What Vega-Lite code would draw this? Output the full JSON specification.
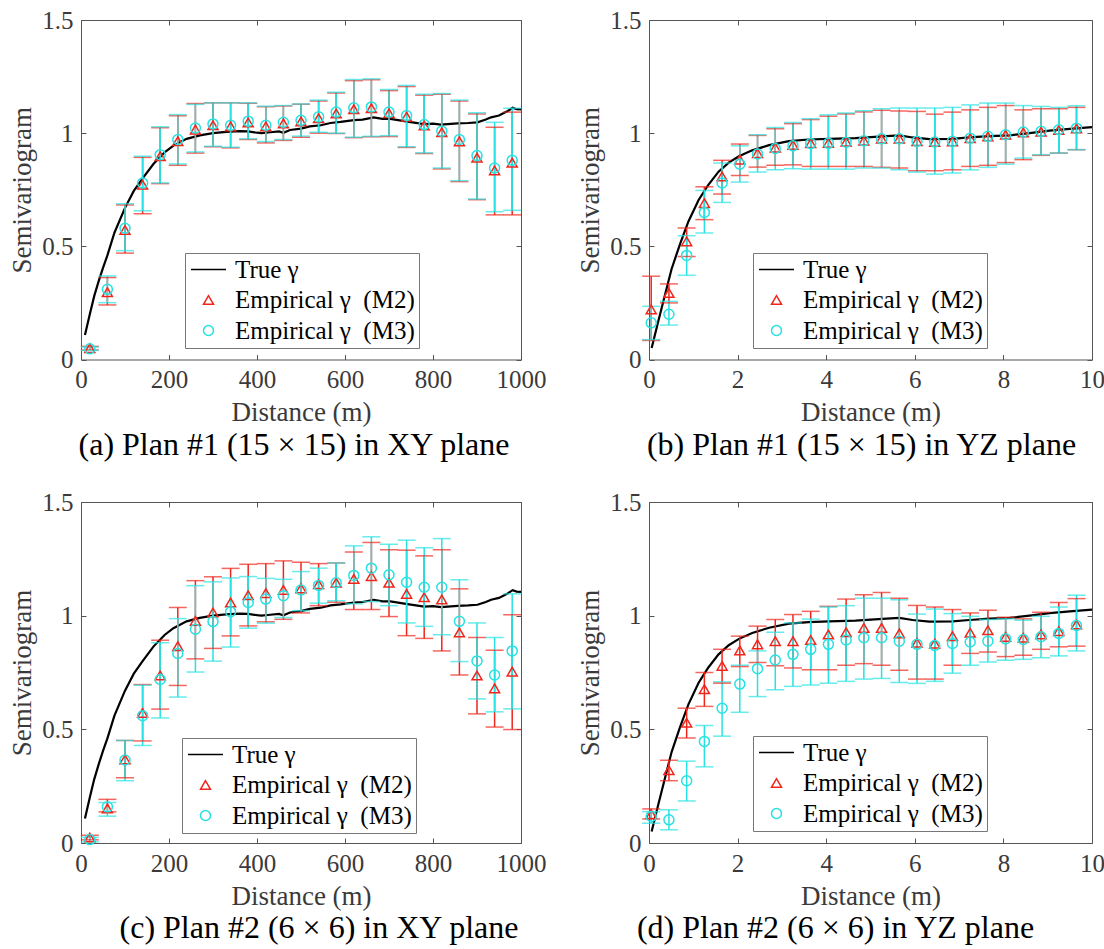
{
  "$schema": "https://vega.github.io/schema/vega-lite/v6.json",
  "background": "white",
  "padding": {"left": 8, "top": 7, "right": 5, "bottom": 5},
  "datasets": {
    "truth": [
      {"g":"XY","x":9,"y":0.108},{"g":"XY","x":20,"y":0.2},{"g":"XY","x":30,"y":0.28},{"g":"XY","x":40,"y":0.345},
      {"g":"XY","x":50,"y":0.405},{"g":"XY","x":60,"y":0.46},{"g":"XY","x":76,"y":0.56},{"g":"XY","x":100,"y":0.67},
      {"g":"XY","x":120,"y":0.745},{"g":"XY","x":140,"y":0.8},{"g":"XY","x":165,"y":0.865},{"g":"XY","x":190,"y":0.915},
      {"g":"XY","x":210,"y":0.945},{"g":"XY","x":240,"y":0.975},{"g":"XY","x":270,"y":0.99},{"g":"XY","x":300,"y":1.0},
      {"g":"XY","x":330,"y":1.006},{"g":"XY","x":360,"y":1.009},{"g":"XY","x":380,"y":1.008},{"g":"XY","x":400,"y":1.002},
      {"g":"XY","x":410,"y":1.0},{"g":"XY","x":430,"y":1.004},{"g":"XY","x":450,"y":1.008},{"g":"XY","x":460,"y":1.002},
      {"g":"XY","x":475,"y":1.014},{"g":"XY","x":500,"y":1.02},{"g":"XY","x":520,"y":1.03},{"g":"XY","x":545,"y":1.035},
      {"g":"XY","x":567,"y":1.045},{"g":"XY","x":590,"y":1.05},{"g":"XY","x":620,"y":1.058},{"g":"XY","x":640,"y":1.06},
      {"g":"XY","x":665,"y":1.07},{"g":"XY","x":685,"y":1.063},{"g":"XY","x":703,"y":1.063},{"g":"XY","x":742,"y":1.051},
      {"g":"XY","x":780,"y":1.04},{"g":"XY","x":800,"y":1.042},{"g":"XY","x":818,"y":1.038},{"g":"XY","x":856,"y":1.043},
      {"g":"XY","x":880,"y":1.045},{"g":"XY","x":901,"y":1.048},{"g":"XY","x":920,"y":1.06},{"g":"XY","x":932,"y":1.07},
      {"g":"XY","x":950,"y":1.078},{"g":"XY","x":962,"y":1.09},{"g":"XY","x":970,"y":1.098},{"g":"XY","x":981,"y":1.112},
      {"g":"XY","x":990,"y":1.106},{"g":"XY","x":1000,"y":1.105},
      {"g":"YZ","x":0.06,"y":0.051},{"g":"YZ","x":0.21,"y":0.169},{"g":"YZ","x":0.36,"y":0.285},{"g":"YZ","x":0.51,"y":0.4},
      {"g":"YZ","x":0.7,"y":0.51},{"g":"YZ","x":0.89,"y":0.61},{"g":"YZ","x":1.12,"y":0.705},{"g":"YZ","x":1.34,"y":0.772},
      {"g":"YZ","x":1.57,"y":0.83},{"g":"YZ","x":1.8,"y":0.87},{"g":"YZ","x":2.03,"y":0.898},{"g":"YZ","x":2.33,"y":0.924},
      {"g":"YZ","x":2.71,"y":0.947},{"g":"YZ","x":3.16,"y":0.965},{"g":"YZ","x":3.6,"y":0.972},{"g":"YZ","x":4.06,"y":0.975},
      {"g":"YZ","x":4.66,"y":0.978},{"g":"YZ","x":5.27,"y":0.986},{"g":"YZ","x":5.65,"y":0.99},{"g":"YZ","x":5.95,"y":0.981},
      {"g":"YZ","x":6.33,"y":0.974},{"g":"YZ","x":6.85,"y":0.975},{"g":"YZ","x":7.23,"y":0.981},{"g":"YZ","x":7.68,"y":0.987},
      {"g":"YZ","x":8.14,"y":0.99},{"g":"YZ","x":8.59,"y":1.0},{"g":"YZ","x":9.04,"y":1.011},{"g":"YZ","x":9.5,"y":1.019},
      {"g":"YZ","x":10,"y":1.027}
    ],
    "emp": [
      {"p":"a","s":"M2","x":20,"y":0.050,"lo":0.042,"hi":0.058},
      {"p":"a","s":"M2","x":60,"y":0.297,"lo":0.241,"hi":0.362},
      {"p":"a","s":"M2","x":100,"y":0.572,"lo":0.470,"hi":0.683},
      {"p":"a","s":"M2","x":140,"y":0.772,"lo":0.644,"hi":0.893},
      {"p":"a","s":"M2","x":180,"y":0.898,"lo":0.777,"hi":1.024},
      {"p":"a","s":"M2","x":220,"y":0.965,"lo":0.858,"hi":1.077},
      {"p":"a","s":"M2","x":260,"y":1.016,"lo":0.912,"hi":1.131},
      {"p":"a","s":"M2","x":300,"y":1.035,"lo":0.940,"hi":1.134},
      {"p":"a","s":"M2","x":340,"y":1.030,"lo":0.935,"hi":1.134},
      {"p":"a","s":"M2","x":380,"y":1.047,"lo":0.972,"hi":1.132},
      {"p":"a","s":"M2","x":420,"y":1.030,"lo":0.957,"hi":1.117},
      {"p":"a","s":"M2","x":460,"y":1.043,"lo":0.968,"hi":1.120},
      {"p":"a","s":"M2","x":500,"y":1.052,"lo":0.982,"hi":1.128},
      {"p":"a","s":"M2","x":540,"y":1.066,"lo":1.000,"hi":1.142},
      {"p":"a","s":"M2","x":580,"y":1.087,"lo":0.998,"hi":1.178},
      {"p":"a","s":"M2","x":620,"y":1.106,"lo":0.980,"hi":1.232},
      {"p":"a","s":"M2","x":660,"y":1.110,"lo":0.984,"hi":1.236},
      {"p":"a","s":"M2","x":700,"y":1.088,"lo":0.985,"hi":1.188},
      {"p":"a","s":"M2","x":740,"y":1.073,"lo":0.937,"hi":1.206},
      {"p":"a","s":"M2","x":780,"y":1.034,"lo":0.910,"hi":1.168},
      {"p":"a","s":"M2","x":820,"y":1.004,"lo":0.842,"hi":1.172},
      {"p":"a","s":"M2","x":860,"y":0.964,"lo":0.786,"hi":1.142},
      {"p":"a","s":"M2","x":900,"y":0.892,"lo":0.706,"hi":1.085},
      {"p":"a","s":"M2","x":940,"y":0.835,"lo":0.639,"hi":1.026},
      {"p":"a","s":"M2","x":980,"y":0.870,"lo":0.639,"hi":1.093},
      {"p":"a","s":"M3","x":20,"y":0.047,"lo":0.040,"hi":0.055},
      {"p":"a","s":"M3","x":60,"y":0.310,"lo":0.251,"hi":0.369},
      {"p":"a","s":"M3","x":100,"y":0.580,"lo":0.481,"hi":0.688},
      {"p":"a","s":"M3","x":140,"y":0.780,"lo":0.657,"hi":0.898},
      {"p":"a","s":"M3","x":180,"y":0.905,"lo":0.780,"hi":1.028},
      {"p":"a","s":"M3","x":220,"y":0.972,"lo":0.864,"hi":1.082},
      {"p":"a","s":"M3","x":260,"y":1.023,"lo":0.917,"hi":1.127},
      {"p":"a","s":"M3","x":300,"y":1.041,"lo":0.942,"hi":1.134},
      {"p":"a","s":"M3","x":340,"y":1.035,"lo":0.938,"hi":1.134},
      {"p":"a","s":"M3","x":380,"y":1.053,"lo":0.975,"hi":1.134},
      {"p":"a","s":"M3","x":420,"y":1.035,"lo":0.963,"hi":1.119},
      {"p":"a","s":"M3","x":460,"y":1.048,"lo":0.972,"hi":1.122},
      {"p":"a","s":"M3","x":500,"y":1.057,"lo":0.987,"hi":1.129},
      {"p":"a","s":"M3","x":540,"y":1.072,"lo":1.004,"hi":1.146},
      {"p":"a","s":"M3","x":580,"y":1.093,"lo":1.000,"hi":1.181},
      {"p":"a","s":"M3","x":620,"y":1.112,"lo":0.982,"hi":1.237},
      {"p":"a","s":"M3","x":660,"y":1.116,"lo":0.986,"hi":1.240},
      {"p":"a","s":"M3","x":700,"y":1.093,"lo":0.989,"hi":1.193},
      {"p":"a","s":"M3","x":740,"y":1.078,"lo":0.940,"hi":1.211},
      {"p":"a","s":"M3","x":780,"y":1.038,"lo":0.913,"hi":1.172},
      {"p":"a","s":"M3","x":820,"y":1.009,"lo":0.846,"hi":1.175},
      {"p":"a","s":"M3","x":860,"y":0.972,"lo":0.790,"hi":1.146},
      {"p":"a","s":"M3","x":900,"y":0.901,"lo":0.709,"hi":1.090},
      {"p":"a","s":"M3","x":940,"y":0.846,"lo":0.653,"hi":1.048},
      {"p":"a","s":"M3","x":980,"y":0.880,"lo":0.659,"hi":1.110},

      {"p":"b","s":"M2","x":0.05,"y":0.221,"lo":0.084,"hi":0.368},
      {"p":"b","s":"M2","x":0.45,"y":0.294,"lo":0.250,"hi":0.334},
      {"p":"b","s":"M2","x":0.85,"y":0.522,"lo":0.455,"hi":0.581},
      {"p":"b","s":"M2","x":1.25,"y":0.691,"lo":0.618,"hi":0.763},
      {"p":"b","s":"M2","x":1.65,"y":0.809,"lo":0.731,"hi":0.880},
      {"p":"b","s":"M2","x":2.05,"y":0.883,"lo":0.813,"hi":0.952},
      {"p":"b","s":"M2","x":2.45,"y":0.912,"lo":0.850,"hi":0.990},
      {"p":"b","s":"M2","x":2.85,"y":0.936,"lo":0.858,"hi":1.020},
      {"p":"b","s":"M2","x":3.25,"y":0.948,"lo":0.860,"hi":1.042},
      {"p":"b","s":"M2","x":3.65,"y":0.956,"lo":0.853,"hi":1.060},
      {"p":"b","s":"M2","x":4.05,"y":0.957,"lo":0.853,"hi":1.075},
      {"p":"b","s":"M2","x":4.45,"y":0.962,"lo":0.853,"hi":1.085},
      {"p":"b","s":"M2","x":4.85,"y":0.967,"lo":0.853,"hi":1.094},
      {"p":"b","s":"M2","x":5.25,"y":0.976,"lo":0.849,"hi":1.101},
      {"p":"b","s":"M2","x":5.65,"y":0.976,"lo":0.846,"hi":1.098},
      {"p":"b","s":"M2","x":6.05,"y":0.965,"lo":0.834,"hi":1.096},
      {"p":"b","s":"M2","x":6.45,"y":0.961,"lo":0.834,"hi":1.084},
      {"p":"b","s":"M2","x":6.85,"y":0.964,"lo":0.838,"hi":1.093},
      {"p":"b","s":"M2","x":7.25,"y":0.978,"lo":0.853,"hi":1.103},
      {"p":"b","s":"M2","x":7.65,"y":0.986,"lo":0.858,"hi":1.114},
      {"p":"b","s":"M2","x":8.05,"y":0.993,"lo":0.870,"hi":1.122},
      {"p":"b","s":"M2","x":8.45,"y":1.003,"lo":0.883,"hi":1.103},
      {"p":"b","s":"M2","x":8.85,"y":1.007,"lo":0.902,"hi":1.108},
      {"p":"b","s":"M2","x":9.25,"y":1.014,"lo":0.912,"hi":1.108},
      {"p":"b","s":"M2","x":9.65,"y":1.021,"lo":0.927,"hi":1.114},
      {"p":"b","s":"M3","x":0.05,"y":0.162,"lo":0.088,"hi":0.235},
      {"p":"b","s":"M3","x":0.45,"y":0.200,"lo":0.152,"hi":0.257},
      {"p":"b","s":"M3","x":0.85,"y":0.460,"lo":0.372,"hi":0.547},
      {"p":"b","s":"M3","x":1.25,"y":0.650,"lo":0.559,"hi":0.747},
      {"p":"b","s":"M3","x":1.65,"y":0.780,"lo":0.694,"hi":0.868},
      {"p":"b","s":"M3","x":2.05,"y":0.863,"lo":0.784,"hi":0.944},
      {"p":"b","s":"M3","x":2.45,"y":0.908,"lo":0.828,"hi":0.993},
      {"p":"b","s":"M3","x":2.85,"y":0.932,"lo":0.838,"hi":1.025},
      {"p":"b","s":"M3","x":3.25,"y":0.944,"lo":0.843,"hi":1.047},
      {"p":"b","s":"M3","x":3.65,"y":0.954,"lo":0.841,"hi":1.064},
      {"p":"b","s":"M3","x":4.05,"y":0.955,"lo":0.841,"hi":1.081},
      {"p":"b","s":"M3","x":4.45,"y":0.960,"lo":0.841,"hi":1.089},
      {"p":"b","s":"M3","x":4.85,"y":0.966,"lo":0.846,"hi":1.099},
      {"p":"b","s":"M3","x":5.25,"y":0.975,"lo":0.846,"hi":1.108},
      {"p":"b","s":"M3","x":5.65,"y":0.975,"lo":0.838,"hi":1.111},
      {"p":"b","s":"M3","x":6.05,"y":0.964,"lo":0.828,"hi":1.111},
      {"p":"b","s":"M3","x":6.45,"y":0.961,"lo":0.819,"hi":1.111},
      {"p":"b","s":"M3","x":6.85,"y":0.964,"lo":0.824,"hi":1.114},
      {"p":"b","s":"M3","x":7.25,"y":0.978,"lo":0.838,"hi":1.125},
      {"p":"b","s":"M3","x":7.65,"y":0.986,"lo":0.849,"hi":1.133},
      {"p":"b","s":"M3","x":8.05,"y":0.993,"lo":0.863,"hi":1.133},
      {"p":"b","s":"M3","x":8.45,"y":1.005,"lo":0.890,"hi":1.122},
      {"p":"b","s":"M3","x":8.85,"y":1.008,"lo":0.905,"hi":1.118},
      {"p":"b","s":"M3","x":9.25,"y":1.015,"lo":0.912,"hi":1.114},
      {"p":"b","s":"M3","x":9.65,"y":1.022,"lo":0.927,"hi":1.121},

      {"p":"c","s":"M2","x":20,"y":0.024,"lo":0.014,"hi":0.034},
      {"p":"c","s":"M2","x":60,"y":0.152,"lo":0.137,"hi":0.192},
      {"p":"c","s":"M2","x":100,"y":0.368,"lo":0.287,"hi":0.451},
      {"p":"c","s":"M2","x":140,"y":0.572,"lo":0.449,"hi":0.697},
      {"p":"c","s":"M2","x":180,"y":0.737,"lo":0.589,"hi":0.892},
      {"p":"c","s":"M2","x":220,"y":0.866,"lo":0.693,"hi":1.036},
      {"p":"c","s":"M2","x":260,"y":0.977,"lo":0.810,"hi":1.154},
      {"p":"c","s":"M2","x":300,"y":1.014,"lo":0.856,"hi":1.171},
      {"p":"c","s":"M2","x":340,"y":1.058,"lo":0.911,"hi":1.208},
      {"p":"c","s":"M2","x":380,"y":1.090,"lo":0.955,"hi":1.226},
      {"p":"c","s":"M2","x":420,"y":1.099,"lo":0.973,"hi":1.229},
      {"p":"c","s":"M2","x":460,"y":1.113,"lo":0.984,"hi":1.241},
      {"p":"c","s":"M2","x":500,"y":1.120,"lo":1.012,"hi":1.235},
      {"p":"c","s":"M2","x":540,"y":1.138,"lo":1.044,"hi":1.229},
      {"p":"c","s":"M2","x":580,"y":1.145,"lo":1.059,"hi":1.232},
      {"p":"c","s":"M2","x":620,"y":1.162,"lo":1.027,"hi":1.280},
      {"p":"c","s":"M2","x":660,"y":1.174,"lo":1.027,"hi":1.322},
      {"p":"c","s":"M2","x":700,"y":1.145,"lo":0.996,"hi":1.290},
      {"p":"c","s":"M2","x":740,"y":1.096,"lo":0.912,"hi":1.288},
      {"p":"c","s":"M2","x":780,"y":1.081,"lo":0.900,"hi":1.263},
      {"p":"c","s":"M2","x":820,"y":1.071,"lo":0.845,"hi":1.290},
      {"p":"c","s":"M2","x":860,"y":0.926,"lo":0.739,"hi":1.118},
      {"p":"c","s":"M2","x":900,"y":0.737,"lo":0.568,"hi":0.904},
      {"p":"c","s":"M2","x":940,"y":0.680,"lo":0.510,"hi":0.848},
      {"p":"c","s":"M2","x":980,"y":0.754,"lo":0.499,"hi":1.004},
      {"p":"c","s":"M3","x":20,"y":0.015,"lo":0.005,"hi":0.025},
      {"p":"c","s":"M3","x":60,"y":0.159,"lo":0.118,"hi":0.178},
      {"p":"c","s":"M3","x":100,"y":0.365,"lo":0.274,"hi":0.451},
      {"p":"c","s":"M3","x":140,"y":0.560,"lo":0.429,"hi":0.694},
      {"p":"c","s":"M3","x":180,"y":0.719,"lo":0.550,"hi":0.881},
      {"p":"c","s":"M3","x":220,"y":0.834,"lo":0.642,"hi":0.987},
      {"p":"c","s":"M3","x":260,"y":0.940,"lo":0.752,"hi":1.132},
      {"p":"c","s":"M3","x":300,"y":0.974,"lo":0.800,"hi":1.149},
      {"p":"c","s":"M3","x":340,"y":1.017,"lo":0.862,"hi":1.166},
      {"p":"c","s":"M3","x":380,"y":1.058,"lo":0.945,"hi":1.172},
      {"p":"c","s":"M3","x":420,"y":1.073,"lo":0.967,"hi":1.164},
      {"p":"c","s":"M3","x":460,"y":1.088,"lo":0.992,"hi":1.160},
      {"p":"c","s":"M3","x":500,"y":1.113,"lo":1.022,"hi":1.194},
      {"p":"c","s":"M3","x":540,"y":1.133,"lo":1.055,"hi":1.209},
      {"p":"c","s":"M3","x":580,"y":1.145,"lo":1.066,"hi":1.232},
      {"p":"c","s":"M3","x":620,"y":1.177,"lo":1.052,"hi":1.307},
      {"p":"c","s":"M3","x":660,"y":1.209,"lo":1.062,"hi":1.347},
      {"p":"c","s":"M3","x":700,"y":1.180,"lo":1.044,"hi":1.314},
      {"p":"c","s":"M3","x":740,"y":1.147,"lo":0.968,"hi":1.332},
      {"p":"c","s":"M3","x":780,"y":1.125,"lo":0.953,"hi":1.299},
      {"p":"c","s":"M3","x":820,"y":1.125,"lo":0.916,"hi":1.339},
      {"p":"c","s":"M3","x":860,"y":0.975,"lo":0.798,"hi":1.158},
      {"p":"c","s":"M3","x":900,"y":0.801,"lo":0.634,"hi":0.968},
      {"p":"c","s":"M3","x":940,"y":0.739,"lo":0.577,"hi":0.904},
      {"p":"c","s":"M3","x":980,"y":0.845,"lo":0.590,"hi":1.096},

      {"p":"d","s":"M2","x":0.05,"y":0.127,"lo":0.106,"hi":0.150},
      {"p":"d","s":"M2","x":0.45,"y":0.320,"lo":0.274,"hi":0.364},
      {"p":"d","s":"M2","x":0.85,"y":0.529,"lo":0.462,"hi":0.593},
      {"p":"d","s":"M2","x":1.25,"y":0.677,"lo":0.601,"hi":0.750},
      {"p":"d","s":"M2","x":1.65,"y":0.779,"lo":0.703,"hi":0.852},
      {"p":"d","s":"M2","x":2.05,"y":0.847,"lo":0.776,"hi":0.910},
      {"p":"d","s":"M2","x":2.45,"y":0.874,"lo":0.794,"hi":0.954},
      {"p":"d","s":"M2","x":2.85,"y":0.888,"lo":0.780,"hi":0.983},
      {"p":"d","s":"M2","x":3.25,"y":0.888,"lo":0.770,"hi":1.005},
      {"p":"d","s":"M2","x":3.65,"y":0.893,"lo":0.762,"hi":1.019},
      {"p":"d","s":"M2","x":4.05,"y":0.917,"lo":0.762,"hi":1.041},
      {"p":"d","s":"M2","x":4.45,"y":0.927,"lo":0.782,"hi":1.073},
      {"p":"d","s":"M2","x":4.85,"y":0.946,"lo":0.789,"hi":1.092},
      {"p":"d","s":"M2","x":5.25,"y":0.946,"lo":0.782,"hi":1.102},
      {"p":"d","s":"M2","x":5.65,"y":0.922,"lo":0.760,"hi":1.077},
      {"p":"d","s":"M2","x":6.05,"y":0.881,"lo":0.721,"hi":1.045},
      {"p":"d","s":"M2","x":6.45,"y":0.877,"lo":0.721,"hi":1.038},
      {"p":"d","s":"M2","x":6.85,"y":0.910,"lo":0.782,"hi":1.027},
      {"p":"d","s":"M2","x":7.25,"y":0.925,"lo":0.834,"hi":1.012},
      {"p":"d","s":"M2","x":7.65,"y":0.936,"lo":0.840,"hi":1.024},
      {"p":"d","s":"M2","x":8.05,"y":0.907,"lo":0.820,"hi":0.993},
      {"p":"d","s":"M2","x":8.45,"y":0.903,"lo":0.826,"hi":0.986},
      {"p":"d","s":"M2","x":8.85,"y":0.917,"lo":0.852,"hi":1.015},
      {"p":"d","s":"M2","x":9.25,"y":0.932,"lo":0.863,"hi":1.058},
      {"p":"d","s":"M2","x":9.65,"y":0.961,"lo":0.866,"hi":1.075},
      {"p":"d","s":"M3","x":0.05,"y":0.117,"lo":0.087,"hi":0.138},
      {"p":"d","s":"M3","x":0.45,"y":0.102,"lo":0.058,"hi":0.146},
      {"p":"d","s":"M3","x":0.85,"y":0.274,"lo":0.185,"hi":0.360},
      {"p":"d","s":"M3","x":1.25,"y":0.447,"lo":0.335,"hi":0.517},
      {"p":"d","s":"M3","x":1.65,"y":0.593,"lo":0.470,"hi":0.709},
      {"p":"d","s":"M3","x":2.05,"y":0.699,"lo":0.575,"hi":0.782},
      {"p":"d","s":"M3","x":2.45,"y":0.767,"lo":0.644,"hi":0.845},
      {"p":"d","s":"M3","x":2.85,"y":0.805,"lo":0.674,"hi":0.927},
      {"p":"d","s":"M3","x":3.25,"y":0.830,"lo":0.689,"hi":0.968},
      {"p":"d","s":"M3","x":3.65,"y":0.852,"lo":0.695,"hi":0.985},
      {"p":"d","s":"M3","x":4.05,"y":0.874,"lo":0.703,"hi":1.038},
      {"p":"d","s":"M3","x":4.45,"y":0.893,"lo":0.711,"hi":1.044},
      {"p":"d","s":"M3","x":4.85,"y":0.903,"lo":0.721,"hi":1.077},
      {"p":"d","s":"M3","x":5.25,"y":0.903,"lo":0.724,"hi":1.077},
      {"p":"d","s":"M3","x":5.65,"y":0.888,"lo":0.706,"hi":1.070},
      {"p":"d","s":"M3","x":6.05,"y":0.874,"lo":0.702,"hi":1.007},
      {"p":"d","s":"M3","x":6.45,"y":0.869,"lo":0.711,"hi":1.029},
      {"p":"d","s":"M3","x":6.85,"y":0.878,"lo":0.747,"hi":1.009},
      {"p":"d","s":"M3","x":7.25,"y":0.884,"lo":0.782,"hi":0.997},
      {"p":"d","s":"M3","x":7.65,"y":0.888,"lo":0.796,"hi":0.983},
      {"p":"d","s":"M3","x":8.05,"y":0.898,"lo":0.804,"hi":0.986},
      {"p":"d","s":"M3","x":8.45,"y":0.895,"lo":0.808,"hi":0.980},
      {"p":"d","s":"M3","x":8.85,"y":0.907,"lo":0.815,"hi":0.997},
      {"p":"d","s":"M3","x":9.25,"y":0.922,"lo":0.823,"hi":1.038},
      {"p":"d","s":"M3","x":9.65,"y":0.957,"lo":0.845,"hi":1.090}
    ]
  },
  "columns": 2,
  "spacing": {"row": 142, "column": 128},
  "bounds": "flush",
  "resolve": {"scale": {"color": "independent", "shape": "independent"}, "legend": {"color": "independent", "shape": "independent"}},
  "concat": [
    {
      "width": 440, "height": 339.5,
      "title": {"text": "(a) Plan #1 (15 × 15) in XY plane", "orient": "bottom", "anchor": "middle", "baseline": "top", "offset": 4, "dx": -7},
      "resolve": {"axis": {"x": "independent", "y": "independent"}},
      "layer": [
        {
          "data": {"name": "truth"},
          "transform": [{"filter": "datum.g == 'XY'"}, {"calculate": "'T'", "as": "s"}],
          "mark": {"type": "line", "strokeWidth": 2.2},
          "encoding": {
            "x": {"field": "x", "type": "quantitative", "scale": {"domain": [0, 1000], "nice": false}, "axis": {"title": "Distance (m)", "values": [0, 200, 400, 600, 800, 1000], "labelExpr": "'' + datum.value"}},
            "y": {"field": "y", "type": "quantitative", "scale": {"domain": [0, 1.5], "nice": false}, "axis": {"title": "Semivariogram", "values": [0, 0.5, 1, 1.5], "labelExpr": "'' + datum.value"}},
            "stroke": {"field": "s", "type": "nominal", "scale": {"domain": ["T", "M2", "M3"], "range": ["#000000", "#f0261c", "#26e2e2"]}, "legend": null}
          }
        },
        {
          "data": {"name": "truth"},
          "transform": [{"filter": "datum.g == 'XY'"}],
          "mark": {"type": "line", "opacity": 0},
          "encoding": {
            "x": {"field": "x", "type": "quantitative", "axis": {"orient": "top", "labels": false, "title": null, "values": [0, 200, 400, 600, 800, 1000]}},
            "y": {"field": "y", "type": "quantitative", "axis": {"orient": "right", "labels": false, "title": null, "values": [0, 0.5, 1, 1.5]}}
          }
        },
        {
          "data": {"name": "emp"},
          "transform": [{"filter": "datum.p == 'a'"}],
          "mark": {"type": "rule", "strokeWidth": 1.5},
          "encoding": {
            "x": {"field": "x", "type": "quantitative", "axis": null},
            "y": {"field": "lo", "type": "quantitative", "axis": null},
            "y2": {"field": "hi"},
            "stroke": {"field": "s", "type": "nominal", "legend": null}
          }
        },
        {
          "data": {"name": "emp"},
          "transform": [{"filter": "datum.p == 'a'"}],
          "mark": {"type": "tick", "orient": "horizontal", "size": 18, "thickness": 1.5},
          "encoding": {
            "x": {"field": "x", "type": "quantitative", "axis": null},
            "y": {"field": "hi", "type": "quantitative", "axis": null},
            "fill": {"field": "s", "type": "nominal", "scale": {"domain": ["M2", "M3"], "range": ["#f0261c", "#26e2e2"]}, "legend": null}
          }
        },
        {
          "data": {"name": "emp"},
          "transform": [{"filter": "datum.p == 'a'"}],
          "mark": {"type": "tick", "orient": "horizontal", "size": 18, "thickness": 1.5},
          "encoding": {
            "x": {"field": "x", "type": "quantitative", "axis": null},
            "y": {"field": "lo", "type": "quantitative", "axis": null},
            "fill": {"field": "s", "type": "nominal", "legend": null}
          }
        },
        {
          "data": {"name": "emp"},
          "transform": [{"filter": "datum.p == 'a'"}],
          "mark": {"type": "point", "filled": false, "strokeWidth": 1.5, "size": 100, "opacity": 1},
          "encoding": {
            "x": {"field": "x", "type": "quantitative", "axis": null},
            "y": {"field": "y", "type": "quantitative", "axis": null},
            "color": {"field": "s", "type": "nominal", "scale": {"domain": ["T", "M2", "M3"], "range": ["#000000", "#f0261c", "#26e2e2"]},
              "legend": {"title": null, "orient": "none", "legendX": 104, "legendY": 233, "labelExpr": "datum.label == 'T' ? 'True γ' : datum.label == 'M2' ? 'Empirical γ\u00a0 (M2)' : 'Empirical γ\u00a0 (M3)'"}},
            "shape": {"field": "s", "type": "nominal", "scale": {"domain": ["T", "M2", "M3"], "range": ["M-3.5,0H3.5", "triangle-up", "circle"]},
              "legend": {"title": null, "orient": "none", "legendX": 104, "legendY": 233, "labelExpr": "datum.label == 'T' ? 'True γ' : datum.label == 'M2' ? 'Empirical γ\u00a0 (M2)' : 'Empirical γ\u00a0 (M3)'"}}
          }
        }
      ]
    },
    {
      "width": 443, "height": 339.5,
      "title": {"text": "(b) Plan #1 (15 × 15) in YZ plane", "orient": "bottom", "anchor": "middle", "baseline": "top", "offset": 4, "dx": -9},
      "resolve": {"axis": {"x": "independent", "y": "independent"}},
      "layer": [
        {
          "data": {"name": "truth"},
          "transform": [{"filter": "datum.g == 'YZ'"}, {"calculate": "'T'", "as": "s"}],
          "mark": {"type": "line", "strokeWidth": 2.2},
          "encoding": {
            "x": {"field": "x", "type": "quantitative", "scale": {"domain": [0, 10], "nice": false}, "axis": {"title": "Distance (m)", "values": [0, 2, 4, 6, 8, 10], "labelExpr": "'' + datum.value"}},
            "y": {"field": "y", "type": "quantitative", "scale": {"domain": [0, 1.5], "nice": false}, "axis": {"title": "Semivariogram", "values": [0, 0.5, 1, 1.5], "labelExpr": "'' + datum.value"}},
            "stroke": {"field": "s", "type": "nominal", "scale": {"domain": ["T", "M2", "M3"], "range": ["#000000", "#f0261c", "#26e2e2"]}, "legend": null}
          }
        },
        {
          "data": {"name": "truth"},
          "transform": [{"filter": "datum.g == 'YZ'"}],
          "mark": {"type": "line", "opacity": 0},
          "encoding": {
            "x": {"field": "x", "type": "quantitative", "axis": {"orient": "top", "labels": false, "title": null, "values": [0, 2, 4, 6, 8, 10]}},
            "y": {"field": "y", "type": "quantitative", "axis": {"orient": "right", "labels": false, "title": null, "values": [0, 0.5, 1, 1.5]}}
          }
        },
        {
          "data": {"name": "emp"},
          "transform": [{"filter": "datum.p == 'b'"}],
          "mark": {"type": "rule", "strokeWidth": 1.5},
          "encoding": {
            "x": {"field": "x", "type": "quantitative", "axis": null},
            "y": {"field": "lo", "type": "quantitative", "axis": null},
            "y2": {"field": "hi"},
            "stroke": {"field": "s", "type": "nominal", "legend": null}
          }
        },
        {
          "data": {"name": "emp"},
          "transform": [{"filter": "datum.p == 'b'"}],
          "mark": {"type": "tick", "orient": "horizontal", "size": 18, "thickness": 1.5},
          "encoding": {
            "x": {"field": "x", "type": "quantitative", "axis": null},
            "y": {"field": "hi", "type": "quantitative", "axis": null},
            "fill": {"field": "s", "type": "nominal", "scale": {"domain": ["M2", "M3"], "range": ["#f0261c", "#26e2e2"]}, "legend": null}
          }
        },
        {
          "data": {"name": "emp"},
          "transform": [{"filter": "datum.p == 'b'"}],
          "mark": {"type": "tick", "orient": "horizontal", "size": 18, "thickness": 1.5},
          "encoding": {
            "x": {"field": "x", "type": "quantitative", "axis": null},
            "y": {"field": "lo", "type": "quantitative", "axis": null},
            "fill": {"field": "s", "type": "nominal", "legend": null}
          }
        },
        {
          "data": {"name": "emp"},
          "transform": [{"filter": "datum.p == 'b'"}],
          "mark": {"type": "point", "filled": false, "strokeWidth": 1.5, "size": 100, "opacity": 1},
          "encoding": {
            "x": {"field": "x", "type": "quantitative", "axis": null},
            "y": {"field": "y", "type": "quantitative", "axis": null},
            "color": {"field": "s", "type": "nominal", "scale": {"domain": ["T", "M2", "M3"], "range": ["#000000", "#f0261c", "#26e2e2"]},
              "legend": {"title": null, "orient": "none", "legendX": 104, "legendY": 233, "labelExpr": "datum.label == 'T' ? 'True γ' : datum.label == 'M2' ? 'Empirical γ\u00a0 (M2)' : 'Empirical γ\u00a0 (M3)'"}},
            "shape": {"field": "s", "type": "nominal", "scale": {"domain": ["T", "M2", "M3"], "range": ["M-3.5,0H3.5", "triangle-up", "circle"]},
              "legend": {"title": null, "orient": "none", "legendX": 104, "legendY": 233, "labelExpr": "datum.label == 'T' ? 'True γ' : datum.label == 'M2' ? 'Empirical γ\u00a0 (M2)' : 'Empirical γ\u00a0 (M3)'"}}
          }
        }
      ]
    },
    {
      "width": 440, "height": 341,
      "title": {"text": "(c) Plan #2 (6 × 6) in XY plane", "orient": "bottom", "anchor": "middle", "baseline": "top", "offset": 4, "dx": 18},
      "resolve": {"axis": {"x": "independent", "y": "independent"}},
      "layer": [
        {
          "data": {"name": "truth"},
          "transform": [{"filter": "datum.g == 'XY'"}, {"calculate": "'T'", "as": "s"}],
          "mark": {"type": "line", "strokeWidth": 2.2},
          "encoding": {
            "x": {"field": "x", "type": "quantitative", "scale": {"domain": [0, 1000], "nice": false}, "axis": {"title": "Distance (m)", "values": [0, 200, 400, 600, 800, 1000], "labelExpr": "'' + datum.value"}},
            "y": {"field": "y", "type": "quantitative", "scale": {"domain": [0, 1.5], "nice": false}, "axis": {"title": "Semivariogram", "values": [0, 0.5, 1, 1.5], "labelExpr": "'' + datum.value"}},
            "stroke": {"field": "s", "type": "nominal", "scale": {"domain": ["T", "M2", "M3"], "range": ["#000000", "#f0261c", "#26e2e2"]}, "legend": null}
          }
        },
        {
          "data": {"name": "truth"},
          "transform": [{"filter": "datum.g == 'XY'"}],
          "mark": {"type": "line", "opacity": 0},
          "encoding": {
            "x": {"field": "x", "type": "quantitative", "axis": {"orient": "top", "labels": false, "title": null, "values": [0, 200, 400, 600, 800, 1000]}},
            "y": {"field": "y", "type": "quantitative", "axis": {"orient": "right", "labels": false, "title": null, "values": [0, 0.5, 1, 1.5]}}
          }
        },
        {
          "data": {"name": "emp"},
          "transform": [{"filter": "datum.p == 'c'"}],
          "mark": {"type": "rule", "strokeWidth": 1.5},
          "encoding": {
            "x": {"field": "x", "type": "quantitative", "axis": null},
            "y": {"field": "lo", "type": "quantitative", "axis": null},
            "y2": {"field": "hi"},
            "stroke": {"field": "s", "type": "nominal", "legend": null}
          }
        },
        {
          "data": {"name": "emp"},
          "transform": [{"filter": "datum.p == 'c'"}],
          "mark": {"type": "tick", "orient": "horizontal", "size": 18, "thickness": 1.5},
          "encoding": {
            "x": {"field": "x", "type": "quantitative", "axis": null},
            "y": {"field": "hi", "type": "quantitative", "axis": null},
            "fill": {"field": "s", "type": "nominal", "scale": {"domain": ["M2", "M3"], "range": ["#f0261c", "#26e2e2"]}, "legend": null}
          }
        },
        {
          "data": {"name": "emp"},
          "transform": [{"filter": "datum.p == 'c'"}],
          "mark": {"type": "tick", "orient": "horizontal", "size": 18, "thickness": 1.5},
          "encoding": {
            "x": {"field": "x", "type": "quantitative", "axis": null},
            "y": {"field": "lo", "type": "quantitative", "axis": null},
            "fill": {"field": "s", "type": "nominal", "legend": null}
          }
        },
        {
          "data": {"name": "emp"},
          "transform": [{"filter": "datum.p == 'c'"}],
          "mark": {"type": "point", "filled": false, "strokeWidth": 1.5, "size": 100, "opacity": 1},
          "encoding": {
            "x": {"field": "x", "type": "quantitative", "axis": null},
            "y": {"field": "y", "type": "quantitative", "axis": null},
            "color": {"field": "s", "type": "nominal", "scale": {"domain": ["T", "M2", "M3"], "range": ["#000000", "#f0261c", "#26e2e2"]},
              "legend": {"title": null, "orient": "none", "legendX": 101, "legendY": 236, "labelExpr": "datum.label == 'T' ? 'True γ' : datum.label == 'M2' ? 'Empirical γ\u00a0 (M2)' : 'Empirical γ\u00a0 (M3)'"}},
            "shape": {"field": "s", "type": "nominal", "scale": {"domain": ["T", "M2", "M3"], "range": ["M-3.5,0H3.5", "triangle-up", "circle"]},
              "legend": {"title": null, "orient": "none", "legendX": 101, "legendY": 236, "labelExpr": "datum.label == 'T' ? 'True γ' : datum.label == 'M2' ? 'Empirical γ\u00a0 (M2)' : 'Empirical γ\u00a0 (M3)'"}}
          }
        }
      ]
    },
    {
      "width": 443, "height": 341,
      "title": {"text": "(d) Plan #2 (6 × 6) in YZ plane", "orient": "bottom", "anchor": "middle", "baseline": "top", "offset": 4, "dx": -35},
      "resolve": {"axis": {"x": "independent", "y": "independent"}},
      "layer": [
        {
          "data": {"name": "truth"},
          "transform": [{"filter": "datum.g == 'YZ'"}, {"calculate": "'T'", "as": "s"}],
          "mark": {"type": "line", "strokeWidth": 2.2},
          "encoding": {
            "x": {"field": "x", "type": "quantitative", "scale": {"domain": [0, 10], "nice": false}, "axis": {"title": "Distance (m)", "values": [0, 2, 4, 6, 8, 10], "labelExpr": "'' + datum.value"}},
            "y": {"field": "y", "type": "quantitative", "scale": {"domain": [0, 1.5], "nice": false}, "axis": {"title": "Semivariogram", "values": [0, 0.5, 1, 1.5], "labelExpr": "'' + datum.value"}},
            "stroke": {"field": "s", "type": "nominal", "scale": {"domain": ["T", "M2", "M3"], "range": ["#000000", "#f0261c", "#26e2e2"]}, "legend": null}
          }
        },
        {
          "data": {"name": "truth"},
          "transform": [{"filter": "datum.g == 'YZ'"}],
          "mark": {"type": "line", "opacity": 0},
          "encoding": {
            "x": {"field": "x", "type": "quantitative", "axis": {"orient": "top", "labels": false, "title": null, "values": [0, 2, 4, 6, 8, 10]}},
            "y": {"field": "y", "type": "quantitative", "axis": {"orient": "right", "labels": false, "title": null, "values": [0, 0.5, 1, 1.5]}}
          }
        },
        {
          "data": {"name": "emp"},
          "transform": [{"filter": "datum.p == 'd'"}],
          "mark": {"type": "rule", "strokeWidth": 1.5},
          "encoding": {
            "x": {"field": "x", "type": "quantitative", "axis": null},
            "y": {"field": "lo", "type": "quantitative", "axis": null},
            "y2": {"field": "hi"},
            "stroke": {"field": "s", "type": "nominal", "legend": null}
          }
        },
        {
          "data": {"name": "emp"},
          "transform": [{"filter": "datum.p == 'd'"}],
          "mark": {"type": "tick", "orient": "horizontal", "size": 18, "thickness": 1.5},
          "encoding": {
            "x": {"field": "x", "type": "quantitative", "axis": null},
            "y": {"field": "hi", "type": "quantitative", "axis": null},
            "fill": {"field": "s", "type": "nominal", "scale": {"domain": ["M2", "M3"], "range": ["#f0261c", "#26e2e2"]}, "legend": null}
          }
        },
        {
          "data": {"name": "emp"},
          "transform": [{"filter": "datum.p == 'd'"}],
          "mark": {"type": "tick", "orient": "horizontal", "size": 18, "thickness": 1.5},
          "encoding": {
            "x": {"field": "x", "type": "quantitative", "axis": null},
            "y": {"field": "lo", "type": "quantitative", "axis": null},
            "fill": {"field": "s", "type": "nominal", "legend": null}
          }
        },
        {
          "data": {"name": "emp"},
          "transform": [{"filter": "datum.p == 'd'"}],
          "mark": {"type": "point", "filled": false, "strokeWidth": 1.5, "size": 100, "opacity": 1},
          "encoding": {
            "x": {"field": "x", "type": "quantitative", "axis": null},
            "y": {"field": "y", "type": "quantitative", "axis": null},
            "color": {"field": "s", "type": "nominal", "scale": {"domain": ["T", "M2", "M3"], "range": ["#000000", "#f0261c", "#26e2e2"]},
              "legend": {"title": null, "orient": "none", "legendX": 104, "legendY": 234, "labelExpr": "datum.label == 'T' ? 'True γ' : datum.label == 'M2' ? 'Empirical γ\u00a0 (M2)' : 'Empirical γ\u00a0 (M3)'"}},
            "shape": {"field": "s", "type": "nominal", "scale": {"domain": ["T", "M2", "M3"], "range": ["M-3.5,0H3.5", "triangle-up", "circle"]},
              "legend": {"title": null, "orient": "none", "legendX": 104, "legendY": 234, "labelExpr": "datum.label == 'T' ? 'True γ' : datum.label == 'M2' ? 'Empirical γ\u00a0 (M2)' : 'Empirical γ\u00a0 (M3)'"}}
          }
        }
      ]
    }
  ],
  "config": {
    "view": {"stroke": "#555555", "strokeWidth": 1},
    "font": "Liberation Serif",
    "axis": {
      "domain": false, "grid": false,
      "tickSize": -5, "tickColor": "#555555", "tickWidth": 1,
      "labelFont": "Liberation Serif", "labelFontSize": 25, "labelColor": "#3a3a3a", "labelPadding": 13,
      "labelFlush": false, "labelOverlap": false,
      "titleFont": "Liberation Serif", "titleFontSize": 27, "titleFontWeight": "normal", "titleColor": "#3a3a3a"
    },
    "axisX": {"titlePadding": 7},
    "axisY": {"titlePadding": 5},
    "legend": {
      "labelFont": "Liberation Serif", "labelFontSize": 25, "labelColor": "#000000", "labelLimit": 400,
      "padding": 4, "rowPadding": 4.5, "labelOffset": 14, "symbolOffset": 7, "symbolSize": 100, "symbolStrokeWidth": 1.5,
      "strokeColor": "#777777", "fillColor": "white", "cornerRadius": 0
    },
    "title": {"font": "Liberation Serif", "fontSize": 32, "fontWeight": "normal", "color": "#000000"}
  }
}
